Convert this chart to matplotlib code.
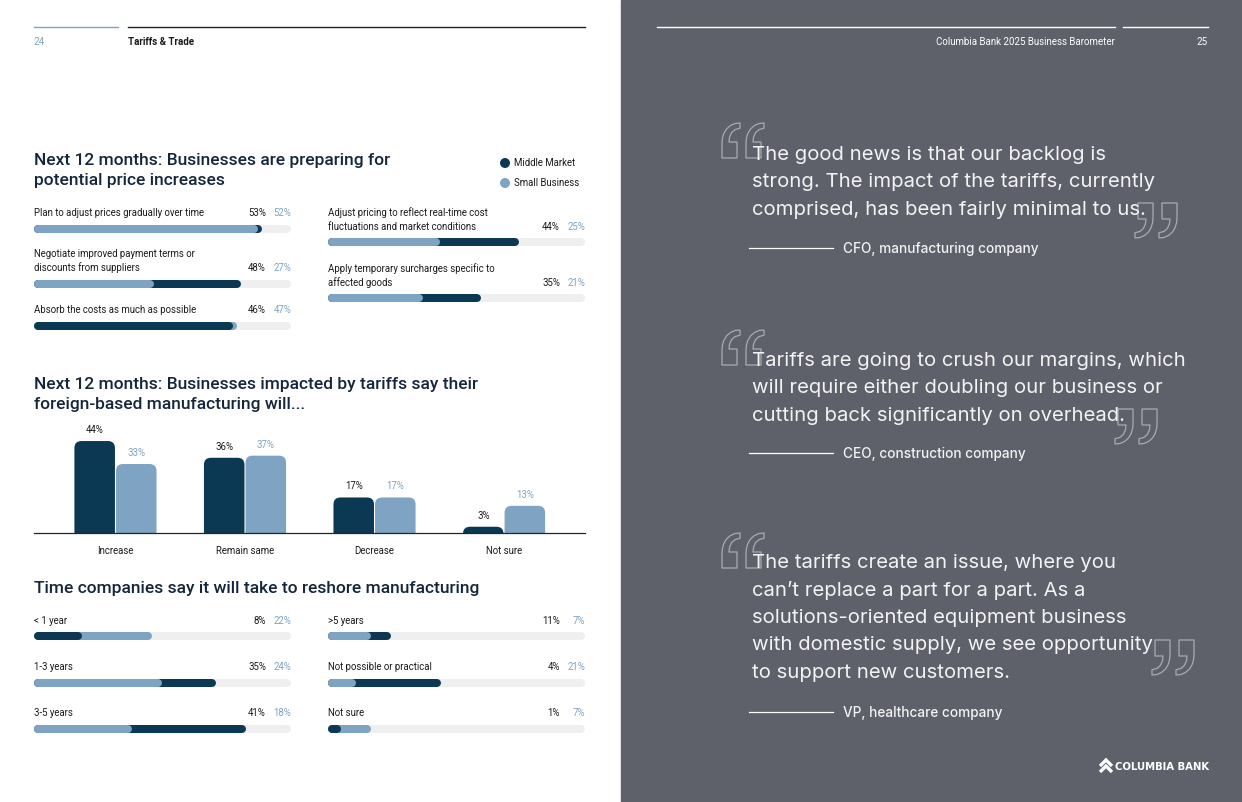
import matplotlib
matplotlib.use("Agg")
import matplotlib.pyplot as plt
from matplotlib.patches import Rectangle, FancyBboxPatch, PathPatch
from matplotlib.path import Path
import numpy as np

W, H, DPI = 1242, 802, 100

# ---------------- data ----------------
legend_labels = ["Middle Market", "Small Business"]

price_title = ["Next 12 months: Businesses are preparing for", "potential price increases"]
price_labels = [
    "Plan to adjust prices gradually over time",
    "Negotiate improved payment terms or\ndiscounts from suppliers",
    "Absorb the costs as much as possible",
    "Adjust pricing to reflect real-time cost\nfluctuations and market conditions",
    "Apply temporary surcharges specific to\naffected goods",
]
price_mm = [53, 48, 46, 44, 35]
price_sb = [52, 27, 47, 25, 21]

manuf_title = ["Next 12 months: Businesses impacted by tariffs say their",
               "foreign-based manufacturing will..."]
manuf_cats = ["Increase", "Remain same", "Decrease", "Not sure"]
manuf_mm = [44, 36, 17, 3]
manuf_sb = [33, 37, 17, 13]

reshore_title = "Time companies say it will take to reshore manufacturing"
reshore_labels = ["< 1 year", "1-3 years", "3-5 years",
                  ">5 years", "Not possible or practical", "Not sure"]
reshore_mm = [8, 35, 41, 11, 21, 1]      # bar lengths as drawn
reshore_sb = [22, 24, 18, 7, 4, 7]
reshore_mm_text = ["8%", "35%", "41%", "11%", "4%", "1%"]   # printed values
reshore_sb_text = ["22%", "24%", "18%", "7%", "21%", "7%"]

quotes = [
    "The good news is that our backlog is\nstrong. The impact of the tariffs, currently\ncomprised, has been fairly minimal to us.",
    "Tariffs are going to crush our margins, which\nwill require either doubling our business or\ncutting back significantly on overhead.",
    "The tariffs create an issue, where you\ncan\u2019t replace a part for a part. As a\nsolutions-oriented equipment business\nwith domestic supply, we see opportunity\nto support new customers.",
]
quote_sources = ["CFO, manufacturing company", "CEO, construction company", "VP, healthcare company"]

# ---------------- style ----------------
DARK = "#0b3953"
LIGHT = "#7fa3c3"
TRACK = "#efefef"
PANEL = "#5e616a"
TEXT = "#1b1b1b"
TITLE = "#15263a"
QTXT = "#f3f3f3"
BODY = "Roboto"
QFONT = "Inter"

fig = plt.figure(figsize=(W / DPI, H / DPI), dpi=DPI)
bg = fig.add_axes([0, 0, 1, 1])
bg.set_xlim(0, W)
bg.set_ylim(H, 0)
bg.axis("off")
bg.add_patch(Rectangle((621, 0), 621, 802, color=PANEL, zorder=0))


def px_axes(x0, y0, x1, y1):
    return fig.add_axes([x0 / W, 1 - y1 / H, (x1 - x0) / W, (y1 - y0) / H])


def t(x, y, s, **kw):
    kw.setdefault("family", BODY)
    kw.setdefault("va", "center")
    kw.setdefault("color", TEXT)
    bg.text(x, y, s, **kw)


# header
bg.plot([34, 118], [27, 27], color=LIGHT, lw=1)
bg.plot([128, 585], [27, 27], color="#222222", lw=1)
t(34, 42, "24", color=LIGHT, fontsize=7)
t(128, 42, "Tariffs & Trade", fontsize=7, weight="bold")
bg.plot([657, 1115], [27, 27], color="white", lw=1)
bg.plot([1123, 1208], [27, 27], color="white", lw=1)
t(1115, 42, "Columbia Bank 2025 Business Barometer", fontsize=7, color="white", ha="right")
t(1208, 42, "25", fontsize=7, color="white", ha="right")

# ---------- horizontal overlay bars ----------
LW = 8 * 72 / DPI


def hbar_row(x0, x1, yc, mm, sb, scale):
    cap = 4
    ax = px_axes(x0 + cap, yc - 6, x1 - cap, yc + 6)
    ax.set_xlim(0, scale)
    ax.set_ylim(-1, 1)
    ax.axis("off")
    ax.plot([0, scale], [0, 0], color=TRACK, lw=LW, solid_capstyle="round", clip_on=False)
    for v, c in sorted([(mm, DARK), (sb, LIGHT)], key=lambda p: -p[0]):
        ax.plot([0, v], [0, 0], color=c, lw=LW, solid_capstyle="round", clip_on=False)


LABEL_FS = 6.9
TITLE_FS = 12.5
# price section
for i, s in enumerate(price_title):
    t(34, 160 + i * 21, s, fontsize=TITLE_FS, weight="medium", color=TITLE)
bg.scatter([505, 505], [163, 183], s=38, color=[DARK, LIGHT], zorder=3)
t(514, 163, legend_labels[0], fontsize=LABEL_FS)
t(514, 183, legend_labels[1], fontsize=LABEL_FS)

price_pos = [  # (x0, x1, first label y, bar y)
    (34, 291, 213, 229),
    (34, 291, 254, 284),
    (34, 291, 310, 326),
    (328, 585, 213, 242),
    (328, 585, 269, 298),
]
for lab, mm, sb, (x0, x1, ly, by) in zip(price_labels, price_mm, price_sb, price_pos):
    lines = lab.split("\n")
    for j, ln in enumerate(lines):
        t(x0, ly + j * 13.7, ln, fontsize=LABEL_FS)
    vy = ly + (len(lines) - 1) * 13.7
    t(x1 - 25, vy, f"{mm}%", fontsize=LABEL_FS, ha="right")
    t(x1, vy, f"{sb}%", fontsize=LABEL_FS, ha="right", color=LIGHT)
    hbar_row(x0, x1, by, mm, sb, 60)

# ---------- column chart ----------
for i, s in enumerate(manuf_title):
    t(34, 384 + i * 21, s, fontsize=TITLE_FS, weight="medium", color=TITLE)

cax = px_axes(34, 415, 585, 533)
cax.set_xlim(-0.629, 3.625)
cax.set_ylim(0, (533 - 415) / 2.09)
for sp in cax.spines.values():
    sp.set_visible(False)
cax.set_yticks([])
x = np.arange(len(manuf_cats))
bw, gap = 0.313, 0.008
cax.set_xticks(x)
cax.set_xticklabels(manuf_cats, fontsize=LABEL_FS, family=BODY, color=TEXT)
cax.tick_params(axis="x", length=0, pad=9)
cax.axhline(0, color="#1c2733", lw=0.9, clip_on=False, zorder=5)
fig.canvas.draw()
bb = cax.get_window_extent()
dx_px = (cax.get_xlim()[1] - cax.get_xlim()[0]) / bb.width
dy_px = (cax.get_ylim()[1] - cax.get_ylim()[0]) / bb.height
rad = 7
for vals, color, off, tcol in [(manuf_mm, DARK, -(bw + gap) / 2, TEXT),
                               (manuf_sb, LIGHT, (bw + gap) / 2, LIGHT)]:
    bars = cax.bar(x + off, vals, bw, color=color)
    for p, v in zip(bars.patches, vals):
        bx, by_, bwid, bh = p.get_x(), p.get_y(), p.get_width(), p.get_height()
        p.remove()
        fb = FancyBboxPatch((bx, by_ - rad * dy_px), bwid, bh + rad * dy_px,
                            boxstyle=f"round,pad=0,rounding_size={rad * dx_px}",
                            mutation_aspect=dy_px / dx_px, fc=color, ec="none")
        cax.add_patch(fb)
        cax.annotate(f"{v}%", (bx + bwid / 2, bh), xytext=(0, 8), textcoords="offset points",
                     ha="center", va="center", fontsize=LABEL_FS, family=BODY, color=tcol,
                     annotation_clip=False)

# ---------- reshoring ----------
t(34, 589, reshore_title, fontsize=TITLE_FS, weight="medium", color=TITLE)
res_pos = [(34, 291, 621, 636), (34, 291, 667, 683), (34, 291, 713, 729),
           (328, 585, 621, 636), (328, 585, 667, 683), (328, 585, 713, 729)]
for lab, mm, sb, mt, st, (x0, x1, ly, by) in zip(reshore_labels, reshore_mm, reshore_sb,
                                                   reshore_mm_text, reshore_sb_text, res_pos):
    t(x0, ly, lab, fontsize=LABEL_FS)
    t(x1 - 25, ly, mt, fontsize=LABEL_FS, ha="right")
    t(x1, ly, st, fontsize=LABEL_FS, ha="right", color=LIGHT)
    hbar_row(x0, x1, by, mm, sb, 50)

# ---------- quotes ----------
# outline glyph of one opening quote mark (x right, y down), width 18, height 35
OPEN_MARK = [(18, 0), (13, 0.5), (8.5, 2.5), (4.5, 6), (1.8, 10.5), (0.4, 15.5), (0, 20),
             (0, 35), (15, 35), (15, 19), (7, 19), (7.6, 14), (9.6, 9.6), (13, 6.6), (18, 5.2)]


def quote_marks(x0, y0, closing=False):
    for k in range(2):
        ox = x0 + k * 24
        pts = []
        for px, py in OPEN_MARK:
            if closing:
                px, py = 18 - px, 35 - py
            pts.append((ox + px, y0 + py))
        pts.append(pts[0])
        path = Path(pts, [Path.MOVETO] + [Path.LINETO] * (len(pts) - 2) + [Path.CLOSEPOLY])
        bg.add_patch(PathPatch(path, fc="none", ec="#a9abb1", lw=0.9, zorder=2,
                               joinstyle="round"))


q_layout = [  # first line y, open quote (x,y), close quote (x,y), source y
    (155, (722, 123), (1135, 203), 249),
    (361, (722, 330), (1115, 409), 454),
    (563, (722, 533), (1152, 640), 713),
]
for q, src, (y0, oq, cq, sy) in zip(quotes, quote_sources, q_layout):
    quote_marks(*oq)
    quote_marks(*cq, closing=True)
    for j, ln in enumerate(q.split("\n")):
        bg.text(752, y0 + j * 27.4, ln, fontsize=14.6, family=QFONT, color=QTXT,
                va="center", ha="left", zorder=3)
    bg.plot([749, 833], [sy - 1, sy - 1], color="white", lw=0.9)
    bg.text(843, sy, src, fontsize=9.8, family=QFONT, weight="medium", color=QTXT, va="center")

# ---------- logo ----------
for dy in (0, 6):
    bg.plot([1100, 1106, 1112], [766 + dy, 760 + dy, 766 + dy], color="white", lw=2.4,
            solid_capstyle="butt", solid_joinstyle="miter")
bg.text(1115, 767, "COLUMBIA BANK", fontsize=7.3, family="DejaVu Sans", weight="bold",
        color="white", va="center")

fig.savefig("out.png", dpi=DPI)
